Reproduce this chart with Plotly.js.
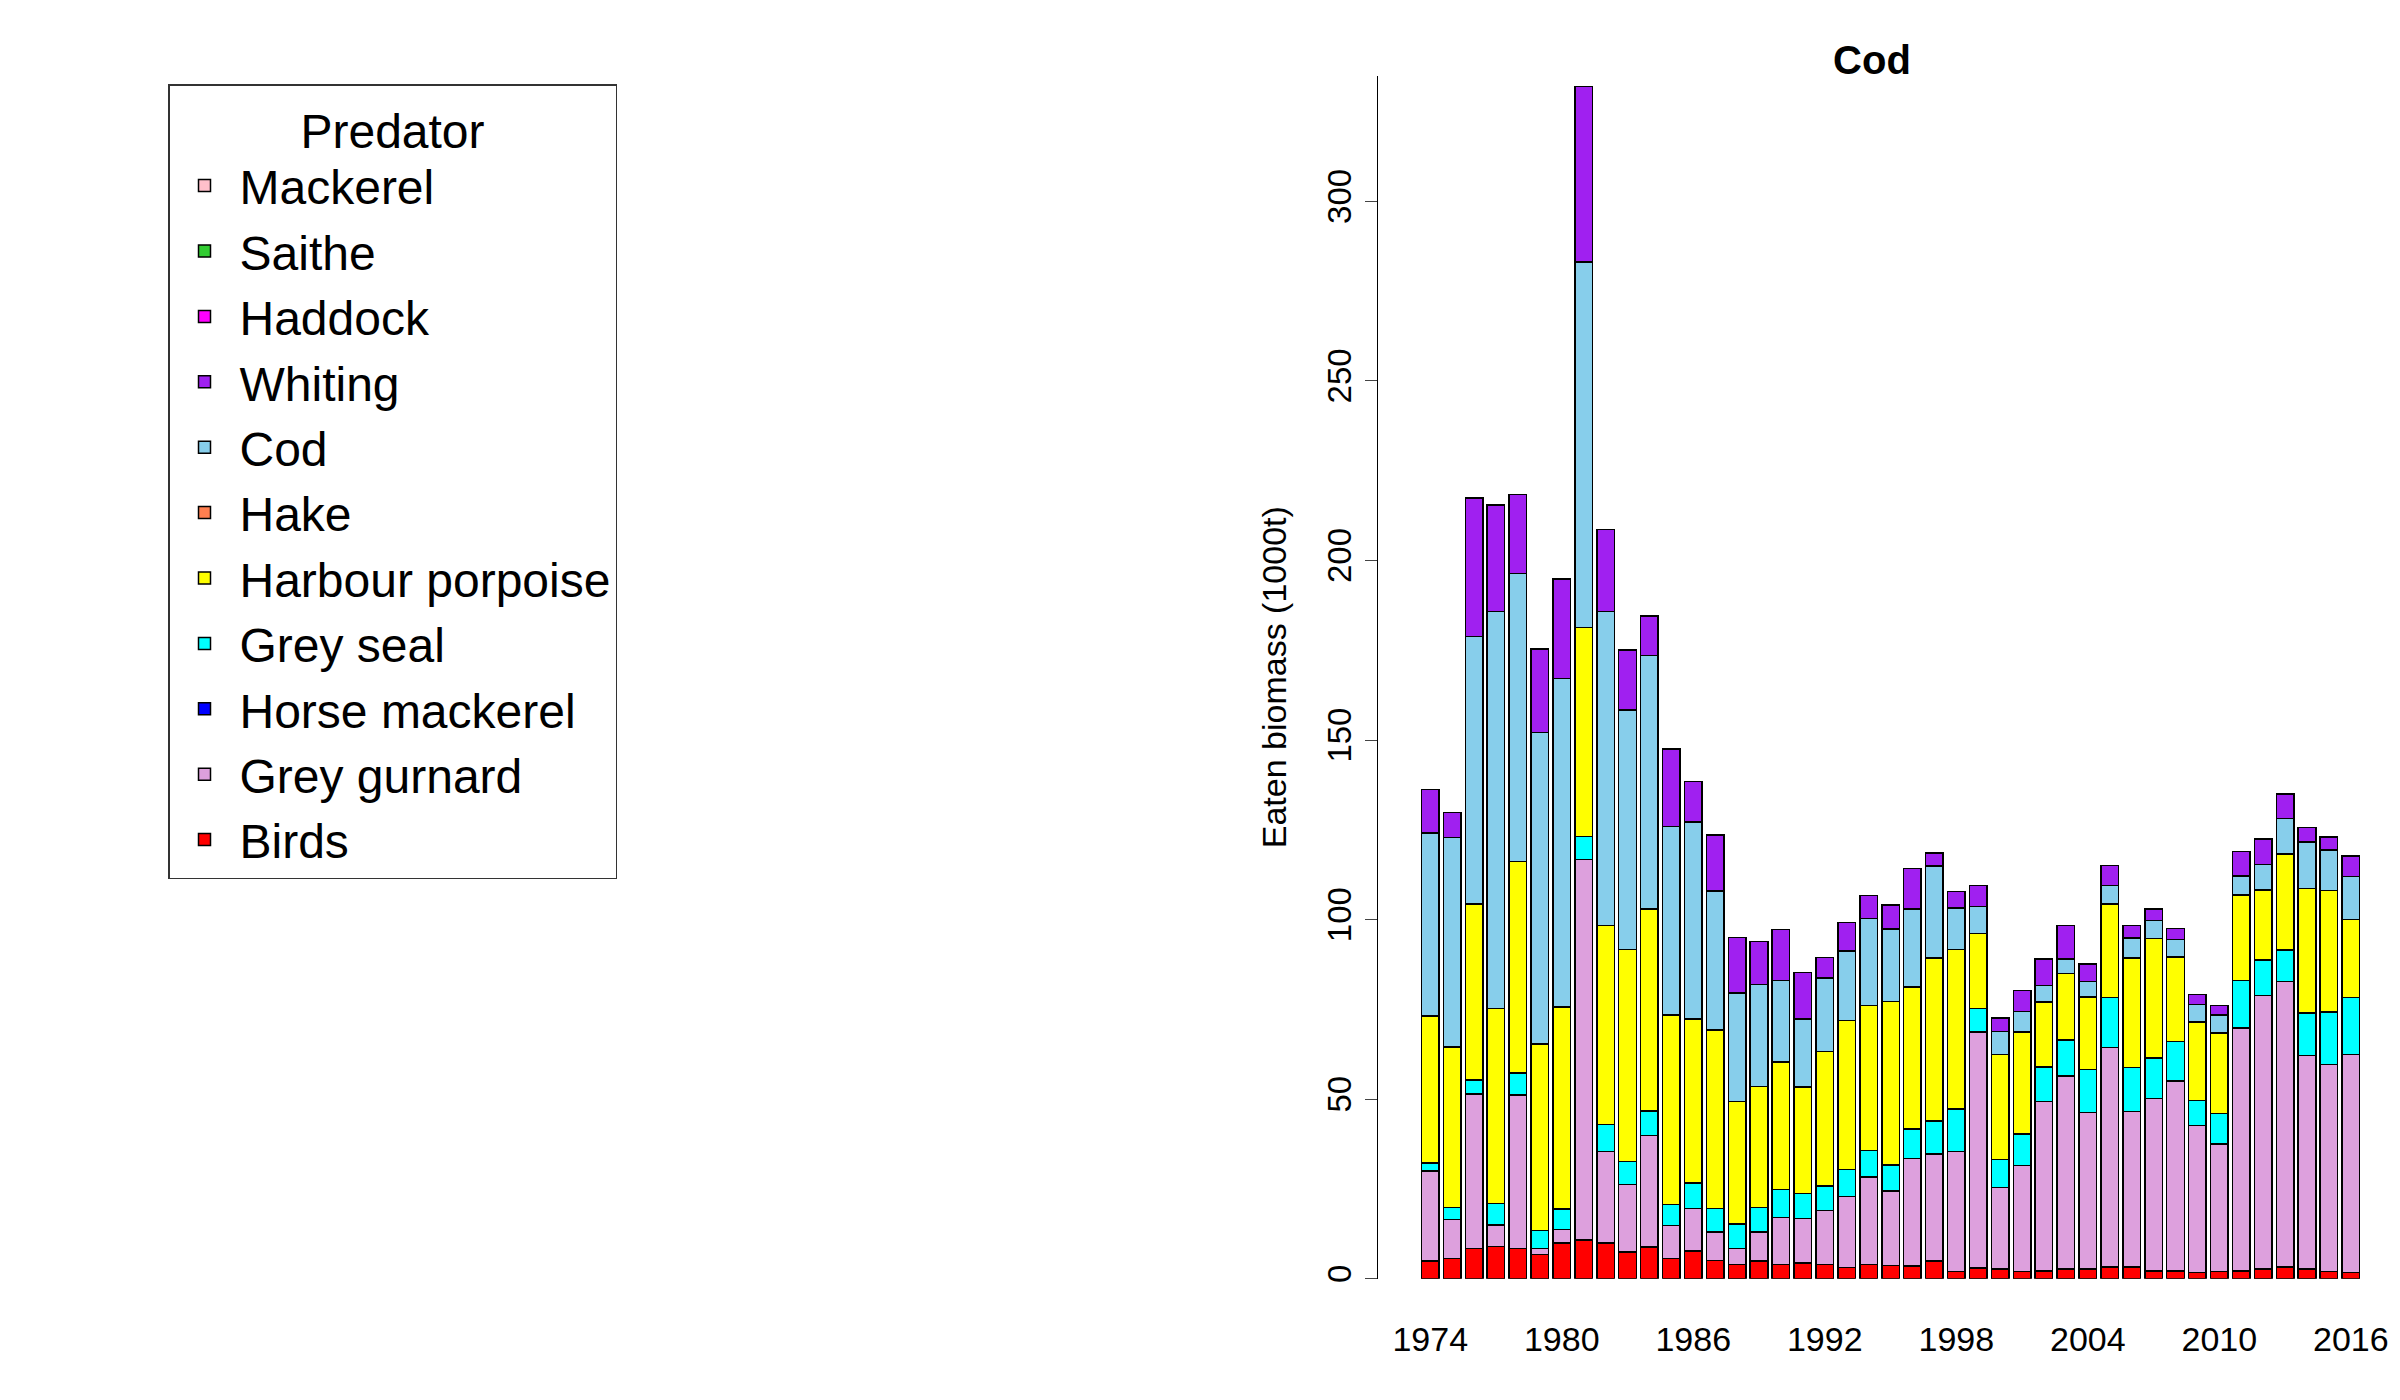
<!DOCTYPE html>
<html>
<head>
<meta charset="utf-8">
<script src="https://cdn.plot.ly/plotly-3.0.1.min.js"></script>
<style>body{margin:0;background:#fff}#chart{width:2400px;height:1400px}</style>
</head>
<body>
<div id="chart"></div>
<script>
const years = [];
for (let y = 1974; y <= 2016; y++) years.push(y);

// values in 1000 t per predator (bottom of stack first)
const birds = [4.9,5.7,8.4,9,8.4,6.8,9.9,10.8,9.9,7.5,8.8,5.7,7.7,5.1,4,4.9,4,4.4,4,3.1,4,3.7,3.5,4.9,
  2,3,2.7,2,2.2,2.7,2.7,3.3,3.3,2.2,2.2,1.7,2,2.2,2.7,3.3,2.7,2,1.7];
const greyGurnard = [25.1,10.8,43,6,42.7,1.6,3.8,106,25.6,18.7,31.1,9.1,11.9,7.9,4.4,8.1,13,12.4,15,19.8,24.4,20.8,30,29.9,
  33.4,65.7,22.7,29.6,47.2,53.7,43.6,61.1,43.3,48,52.8,41,35.5,67.6,76.2,79.5,59.5,57.6,60.7];
const horseMackerel = new Array(43).fill(0);
const greySeal = [2.2,3.3,3.9,5.9,6.2,5,5.7,6.4,7.5,6.4,6.8,5.9,7.1,6.6,6.8,6.8,7.9,7,6.8,7.5,7.3,7.2,8.2,9.1,
  11.8,6.5,7.8,8.7,9.6,10.1,12,13.9,12.2,11.3,11,7,8.5,13.3,9.9,8.7,11.8,14.7,15.9];
const harbourPorpoise = [41,44.8,49,54.3,58.9,51.9,56.2,58.2,55.3,59.1,56.3,52.7,45.6,49.6,34.2,33.8,35.5,29.6,37.5,41.5,40.4,45.5,39.6,45.4,
  44.5,21,29.2,28.4,18.1,18.5,20.2,26,30.5,33.2,23.6,21.8,22.4,23.8,19.5,26.7,34.6,33.8,21.8];
const hake = new Array(43).fill(0);
const cod = [50.9,58.2,74.5,110.6,80.2,86.8,91.5,101.7,87.5,66.6,70.5,52.5,54.9,38.8,30.2,28.4,22.7,18.9,20.5,19.4,24.2,20.2,21.7,25.6,
  11.6,7.4,6.5,5.7,4.6,4.1,4.3,5.2,5.6,5,4.8,4.8,5.1,5.3,7,9.9,13,11.3,11.9];
const whiting = [12.1,7,38.6,29.6,21.9,23.2,27.8,48.9,22.8,16.7,11,21.6,11.2,15.5,15.4,11.9,14.1,13,5.7,7.9,6.4,6.7,11.2,3.7,
  4.5,5.9,3.7,5.8,7.4,9.3,4.8,5.6,3.5,3.3,3.1,2.9,2.6,6.7,7.2,6.9,4,3.6,5.7];
const haddock = new Array(43).fill(0);
const saithe = new Array(43).fill(0);
const mackerel = new Array(43).fill(0);

const series = [
  ["Birds", birds, "#FF0000"],
  ["Grey gurnard", greyGurnard, "#DDA0DD"],
  ["Horse mackerel", horseMackerel, "#0000FF"],
  ["Grey seal", greySeal, "#00FFFF"],
  ["Harbour porpoise", harbourPorpoise, "#FFFF00"],
  ["Hake", hake, "#FF7F50"],
  ["Cod", cod, "#87CEEB"],
  ["Whiting", whiting, "#A020F0"],
  ["Haddock", haddock, "#FF00FF"],
  ["Saithe", saithe, "#32CD32"],
  ["Mackerel", mackerel, "#FFC0CB"]
];

const data = series.map(([name, vals, color]) => ({
  type: "bar",
  name: name,
  x: years,
  y: vals,
  marker: {color: color, line: {color: "#000", width: 1.5}},
  hoverinfo: "name+y"
}));

const layout = {
  barmode: "stack",
  bargap: 0.2,
  paper_bgcolor: "#fff",
  plot_bgcolor: "#fff",
  font: {family: "Liberation Sans, Arial, sans-serif", color: "#000"},
  margin: {l: 0, r: 0, t: 0, b: 0},
  title: {text: "<b>Cod</b>", x: 0.78, xanchor: "center", y: 0.967, font: {size: 40}},
  xaxis: {
    domain: [0.574, 0.985],
    range: [1971.6, 2016.6],
    tickvals: [1974, 1980, 1986, 1992, 1998, 2004, 2010, 2016],
    ticks: "outside", ticklen: 30, tickcolor: "rgba(0,0,0,0)",
    showgrid: false, zeroline: false, showline: false,
    tickfont: {size: 34}
  },
  yaxis: {
    domain: [0.0866, 0.946],
    range: [0, 335],
    tickvals: [0, 50, 100, 150, 200, 250, 300],
    tickangle: -90,
    ticks: "outside", ticklen: 12,
    showgrid: false, zeroline: false,
    showline: true, linecolor: "#000",
    tickfont: {size: 33},
    title: {text: "Eaten biomass (1000t)", font: {size: 34}, standoff: 24}
  },
  legend: {
    x: 0.07, y: 0.94, xanchor: "left", yanchor: "top",
    traceorder: "reversed",
    bordercolor: "#333", borderwidth: 1.5,
    font: {size: 48},
    title: {text: "Predator", side: "top center", font: {size: 48}},
    itemwidth: 60
  },
  showlegend: true
};

Plotly.newPlot("chart", data, layout, {displayModeBar: false});
</script>
</body>
</html>
